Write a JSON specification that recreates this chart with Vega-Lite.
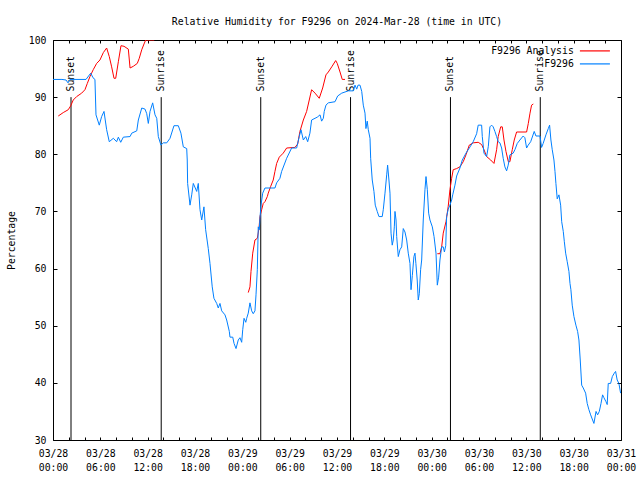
{
  "$schema": "https://vega.github.io/schema/vega-lite/v6.json",
  "width": 568,
  "height": 400,
  "autosize": "none",
  "padding": {"left": 53, "top": 40, "right": 19, "bottom": 40},
  "background": "white",
  "title": {"text": "Relative Humidity for F9296 on 2024-Mar-28 (time in UTC)", "font": "DejaVu Sans Mono", "fontSize": 9.8, "fontWeight": "normal", "color": "black", "offset": 8, "anchor": "middle"},
  "datasets": {
    "sun": [
      {"time": "2024-03-28T02:17", "event": "Sunset"},
      {"time": "2024-03-28T13:43", "event": "Sunrise"},
      {"time": "2024-03-29T02:20", "event": "Sunset"},
      {"time": "2024-03-29T13:43", "event": "Sunrise"},
      {"time": "2024-03-30T02:23", "event": "Sunset"},
      {"time": "2024-03-30T13:46", "event": "Sunrise"}
    ],
    "rh": [
      {"time": "2024-03-28T00:40", "series": "F9296 Analysis", "seg": "a1", "rh": 86.7},
      {"time": "2024-03-28T01:18", "series": "F9296 Analysis", "seg": "a1", "rh": 87.3},
      {"time": "2024-03-28T01:56", "series": "F9296 Analysis", "seg": "a1", "rh": 87.8},
      {"time": "2024-03-28T02:15", "series": "F9296 Analysis", "seg": "a1", "rh": 88.5},
      {"time": "2024-03-28T02:34", "series": "F9296 Analysis", "seg": "a1", "rh": 89.5},
      {"time": "2024-03-28T03:00", "series": "F9296 Analysis", "seg": "a1", "rh": 90.1},
      {"time": "2024-03-28T03:38", "series": "F9296 Analysis", "seg": "a1", "rh": 90.7},
      {"time": "2024-03-28T04:03", "series": "F9296 Analysis", "seg": "a1", "rh": 91.3},
      {"time": "2024-03-28T04:21", "series": "F9296 Analysis", "seg": "a1", "rh": 92.4},
      {"time": "2024-03-28T04:41", "series": "F9296 Analysis", "seg": "a1", "rh": 93.6},
      {"time": "2024-03-28T05:06", "series": "F9296 Analysis", "seg": "a1", "rh": 94.8},
      {"time": "2024-03-28T05:32", "series": "F9296 Analysis", "seg": "a1", "rh": 95.9},
      {"time": "2024-03-28T05:57", "series": "F9296 Analysis", "seg": "a1", "rh": 96.5},
      {"time": "2024-03-28T06:23", "series": "F9296 Analysis", "seg": "a1", "rh": 97.8},
      {"time": "2024-03-28T06:48", "series": "F9296 Analysis", "seg": "a1", "rh": 98.6},
      {"time": "2024-03-28T07:08", "series": "F9296 Analysis", "seg": "a1", "rh": 97.1},
      {"time": "2024-03-28T07:26", "series": "F9296 Analysis", "seg": "a1", "rh": 95.3},
      {"time": "2024-03-28T07:44", "series": "F9296 Analysis", "seg": "a1", "rh": 93.3},
      {"time": "2024-03-28T07:57", "series": "F9296 Analysis", "seg": "a1", "rh": 93.3},
      {"time": "2024-03-28T08:17", "series": "F9296 Analysis", "seg": "a1", "rh": 96.2},
      {"time": "2024-03-28T08:37", "series": "F9296 Analysis", "seg": "a1", "rh": 99.0},
      {"time": "2024-03-28T09:00", "series": "F9296 Analysis", "seg": "a1", "rh": 98.9},
      {"time": "2024-03-28T09:33", "series": "F9296 Analysis", "seg": "a1", "rh": 98.4},
      {"time": "2024-03-28T09:46", "series": "F9296 Analysis", "seg": "a1", "rh": 95.1},
      {"time": "2024-03-28T10:11", "series": "F9296 Analysis", "seg": "a1", "rh": 95.4},
      {"time": "2024-03-28T10:41", "series": "F9296 Analysis", "seg": "a1", "rh": 95.9},
      {"time": "2024-03-28T10:56", "series": "F9296 Analysis", "seg": "a1", "rh": 96.8},
      {"time": "2024-03-28T11:15", "series": "F9296 Analysis", "seg": "a1", "rh": 98.3},
      {"time": "2024-03-28T11:32", "series": "F9296 Analysis", "seg": "a1", "rh": 99.3},
      {"time": "2024-03-28T11:45", "series": "F9296 Analysis", "seg": "a1", "rh": 100},
      {"time": "2024-03-28T12:50", "series": "F9296 Analysis", "seg": "a1", "rh": 100},
      {"time": "2024-03-29T00:45", "series": "F9296 Analysis", "seg": "a2", "rh": 55.8},
      {"time": "2024-03-29T00:58", "series": "F9296 Analysis", "seg": "a2", "rh": 56.8},
      {"time": "2024-03-29T01:06", "series": "F9296 Analysis", "seg": "a2", "rh": 59.5},
      {"time": "2024-03-29T01:19", "series": "F9296 Analysis", "seg": "a2", "rh": 62.7},
      {"time": "2024-03-29T01:36", "series": "F9296 Analysis", "seg": "a2", "rh": 65.0},
      {"time": "2024-03-29T01:54", "series": "F9296 Analysis", "seg": "a2", "rh": 65.3},
      {"time": "2024-03-29T02:07", "series": "F9296 Analysis", "seg": "a2", "rh": 67.1},
      {"time": "2024-03-29T02:14", "series": "F9296 Analysis", "seg": "a2", "rh": 69.1},
      {"time": "2024-03-29T02:27", "series": "F9296 Analysis", "seg": "a2", "rh": 70.3},
      {"time": "2024-03-29T02:39", "series": "F9296 Analysis", "seg": "a2", "rh": 71.4},
      {"time": "2024-03-29T02:52", "series": "F9296 Analysis", "seg": "a2", "rh": 71.7},
      {"time": "2024-03-29T03:10", "series": "F9296 Analysis", "seg": "a2", "rh": 72.6},
      {"time": "2024-03-29T03:17", "series": "F9296 Analysis", "seg": "a2", "rh": 73.2},
      {"time": "2024-03-29T03:36", "series": "F9296 Analysis", "seg": "a2", "rh": 74.4},
      {"time": "2024-03-29T03:55", "series": "F9296 Analysis", "seg": "a2", "rh": 75.5},
      {"time": "2024-03-29T04:08", "series": "F9296 Analysis", "seg": "a2", "rh": 77.0},
      {"time": "2024-03-29T04:21", "series": "F9296 Analysis", "seg": "a2", "rh": 78.4},
      {"time": "2024-03-29T04:41", "series": "F9296 Analysis", "seg": "a2", "rh": 79.5},
      {"time": "2024-03-29T05:11", "series": "F9296 Analysis", "seg": "a2", "rh": 80.2},
      {"time": "2024-03-29T05:37", "series": "F9296 Analysis", "seg": "a2", "rh": 81.1},
      {"time": "2024-03-29T06:40", "series": "F9296 Analysis", "seg": "a2", "rh": 81.2},
      {"time": "2024-03-29T07:01", "series": "F9296 Analysis", "seg": "a2", "rh": 81.8},
      {"time": "2024-03-29T07:18", "series": "F9296 Analysis", "seg": "a2", "rh": 84.0},
      {"time": "2024-03-29T07:44", "series": "F9296 Analysis", "seg": "a2", "rh": 86.0},
      {"time": "2024-03-29T08:09", "series": "F9296 Analysis", "seg": "a2", "rh": 87.5},
      {"time": "2024-03-29T08:29", "series": "F9296 Analysis", "seg": "a2", "rh": 89.5},
      {"time": "2024-03-29T08:47", "series": "F9296 Analysis", "seg": "a2", "rh": 91.3},
      {"time": "2024-03-29T09:13", "series": "F9296 Analysis", "seg": "a2", "rh": 90.7},
      {"time": "2024-03-29T09:45", "series": "F9296 Analysis", "seg": "a2", "rh": 89.8},
      {"time": "2024-03-29T10:11", "series": "F9296 Analysis", "seg": "a2", "rh": 91.6},
      {"time": "2024-03-29T10:36", "series": "F9296 Analysis", "seg": "a2", "rh": 93.9},
      {"time": "2024-03-29T10:54", "series": "F9296 Analysis", "seg": "a2", "rh": 94.4},
      {"time": "2024-03-29T11:20", "series": "F9296 Analysis", "seg": "a2", "rh": 95.3},
      {"time": "2024-03-29T11:50", "series": "F9296 Analysis", "seg": "a2", "rh": 96.4},
      {"time": "2024-03-29T12:02", "series": "F9296 Analysis", "seg": "a2", "rh": 95.9},
      {"time": "2024-03-29T12:23", "series": "F9296 Analysis", "seg": "a2", "rh": 94.4},
      {"time": "2024-03-29T12:40", "series": "F9296 Analysis", "seg": "a2", "rh": 93.1},
      {"time": "2024-03-29T13:01", "series": "F9296 Analysis", "seg": "a2", "rh": 93.1},
      {"time": "2024-03-30T00:43", "series": "F9296 Analysis", "seg": "a3", "rh": 62.6},
      {"time": "2024-03-30T01:03", "series": "F9296 Analysis", "seg": "a3", "rh": 62.6},
      {"time": "2024-03-30T01:16", "series": "F9296 Analysis", "seg": "a3", "rh": 63.8},
      {"time": "2024-03-30T01:28", "series": "F9296 Analysis", "seg": "a3", "rh": 66.2},
      {"time": "2024-03-30T01:49", "series": "F9296 Analysis", "seg": "a3", "rh": 68.2},
      {"time": "2024-03-30T02:06", "series": "F9296 Analysis", "seg": "a3", "rh": 70.9},
      {"time": "2024-03-30T02:19", "series": "F9296 Analysis", "seg": "a3", "rh": 73.8},
      {"time": "2024-03-30T02:32", "series": "F9296 Analysis", "seg": "a3", "rh": 75.8},
      {"time": "2024-03-30T02:44", "series": "F9296 Analysis", "seg": "a3", "rh": 77.3},
      {"time": "2024-03-30T03:10", "series": "F9296 Analysis", "seg": "a3", "rh": 77.5},
      {"time": "2024-03-30T03:35", "series": "F9296 Analysis", "seg": "a3", "rh": 77.8},
      {"time": "2024-03-30T04:00", "series": "F9296 Analysis", "seg": "a3", "rh": 78.7},
      {"time": "2024-03-30T04:21", "series": "F9296 Analysis", "seg": "a3", "rh": 79.9},
      {"time": "2024-03-30T04:46", "series": "F9296 Analysis", "seg": "a3", "rh": 81.6},
      {"time": "2024-03-30T05:16", "series": "F9296 Analysis", "seg": "a3", "rh": 82.0},
      {"time": "2024-03-30T05:54", "series": "F9296 Analysis", "seg": "a3", "rh": 82.1},
      {"time": "2024-03-30T06:20", "series": "F9296 Analysis", "seg": "a3", "rh": 81.7},
      {"time": "2024-03-30T06:38", "series": "F9296 Analysis", "seg": "a3", "rh": 80.8},
      {"time": "2024-03-30T06:58", "series": "F9296 Analysis", "seg": "a3", "rh": 79.6},
      {"time": "2024-03-30T07:29", "series": "F9296 Analysis", "seg": "a3", "rh": 79.0},
      {"time": "2024-03-30T07:54", "series": "F9296 Analysis", "seg": "a3", "rh": 78.4},
      {"time": "2024-03-30T08:14", "series": "F9296 Analysis", "seg": "a3", "rh": 80.8},
      {"time": "2024-03-30T08:26", "series": "F9296 Analysis", "seg": "a3", "rh": 83.1},
      {"time": "2024-03-30T08:45", "series": "F9296 Analysis", "seg": "a3", "rh": 84.8},
      {"time": "2024-03-30T08:57", "series": "F9296 Analysis", "seg": "a3", "rh": 84.8},
      {"time": "2024-03-30T09:10", "series": "F9296 Analysis", "seg": "a3", "rh": 82.5},
      {"time": "2024-03-30T09:25", "series": "F9296 Analysis", "seg": "a3", "rh": 80.5},
      {"time": "2024-03-30T09:43", "series": "F9296 Analysis", "seg": "a3", "rh": 78.7},
      {"time": "2024-03-30T09:55", "series": "F9296 Analysis", "seg": "a3", "rh": 78.7},
      {"time": "2024-03-30T10:13", "series": "F9296 Analysis", "seg": "a3", "rh": 80.8},
      {"time": "2024-03-30T10:28", "series": "F9296 Analysis", "seg": "a3", "rh": 82.5},
      {"time": "2024-03-30T10:46", "series": "F9296 Analysis", "seg": "a3", "rh": 83.9},
      {"time": "2024-03-30T12:02", "series": "F9296 Analysis", "seg": "a3", "rh": 83.9},
      {"time": "2024-03-30T12:15", "series": "F9296 Analysis", "seg": "a3", "rh": 85.4},
      {"time": "2024-03-30T12:28", "series": "F9296 Analysis", "seg": "a3", "rh": 87.2},
      {"time": "2024-03-30T12:40", "series": "F9296 Analysis", "seg": "a3", "rh": 88.6},
      {"time": "2024-03-30T12:53", "series": "F9296 Analysis", "seg": "a3", "rh": 88.8},
      {"time": "2024-03-28T00:00", "series": "F9296", "seg": "b", "rh": 93.1},
      {"time": "2024-03-28T01:08", "series": "F9296", "seg": "b", "rh": 93.1},
      {"time": "2024-03-28T01:39", "series": "F9296", "seg": "b", "rh": 93.0},
      {"time": "2024-03-28T01:54", "series": "F9296", "seg": "b", "rh": 92.5},
      {"time": "2024-03-28T02:09", "series": "F9296", "seg": "b", "rh": 93.1},
      {"time": "2024-03-28T04:11", "series": "F9296", "seg": "b", "rh": 93.1},
      {"time": "2024-03-28T04:47", "series": "F9296", "seg": "b", "rh": 94.2},
      {"time": "2024-03-28T05:04", "series": "F9296", "seg": "b", "rh": 93.4},
      {"time": "2024-03-28T05:19", "series": "F9296", "seg": "b", "rh": 93.1},
      {"time": "2024-03-28T05:27", "series": "F9296", "seg": "b", "rh": 86.9},
      {"time": "2024-03-28T05:52", "series": "F9296", "seg": "b", "rh": 85.1},
      {"time": "2024-03-28T06:10", "series": "F9296", "seg": "b", "rh": 86.6},
      {"time": "2024-03-28T06:28", "series": "F9296", "seg": "b", "rh": 87.5},
      {"time": "2024-03-28T06:48", "series": "F9296", "seg": "b", "rh": 84.3},
      {"time": "2024-03-28T07:08", "series": "F9296", "seg": "b", "rh": 82.2},
      {"time": "2024-03-28T07:39", "series": "F9296", "seg": "b", "rh": 82.8},
      {"time": "2024-03-28T08:04", "series": "F9296", "seg": "b", "rh": 82.2},
      {"time": "2024-03-28T08:17", "series": "F9296", "seg": "b", "rh": 83.0},
      {"time": "2024-03-28T08:35", "series": "F9296", "seg": "b", "rh": 82.1},
      {"time": "2024-03-28T08:55", "series": "F9296", "seg": "b", "rh": 83.0},
      {"time": "2024-03-28T09:46", "series": "F9296", "seg": "b", "rh": 83.1},
      {"time": "2024-03-28T09:59", "series": "F9296", "seg": "b", "rh": 83.7},
      {"time": "2024-03-28T10:37", "series": "F9296", "seg": "b", "rh": 84.1},
      {"time": "2024-03-28T10:49", "series": "F9296", "seg": "b", "rh": 86.0},
      {"time": "2024-03-28T11:15", "series": "F9296", "seg": "b", "rh": 88.1},
      {"time": "2024-03-28T11:40", "series": "F9296", "seg": "b", "rh": 87.9},
      {"time": "2024-03-28T11:53", "series": "F9296", "seg": "b", "rh": 87.1},
      {"time": "2024-03-28T12:05", "series": "F9296", "seg": "b", "rh": 85.4},
      {"time": "2024-03-28T12:18", "series": "F9296", "seg": "b", "rh": 87.5},
      {"time": "2024-03-28T12:38", "series": "F9296", "seg": "b", "rh": 89.0},
      {"time": "2024-03-28T12:56", "series": "F9296", "seg": "b", "rh": 86.9},
      {"time": "2024-03-28T13:09", "series": "F9296", "seg": "b", "rh": 86.3},
      {"time": "2024-03-28T13:21", "series": "F9296", "seg": "b", "rh": 83.1},
      {"time": "2024-03-28T13:41", "series": "F9296", "seg": "b", "rh": 81.6},
      {"time": "2024-03-28T13:59", "series": "F9296", "seg": "b", "rh": 82.0},
      {"time": "2024-03-28T14:25", "series": "F9296", "seg": "b", "rh": 82.0},
      {"time": "2024-03-28T14:50", "series": "F9296", "seg": "b", "rh": 82.8},
      {"time": "2024-03-28T15:20", "series": "F9296", "seg": "b", "rh": 85.0},
      {"time": "2024-03-28T15:53", "series": "F9296", "seg": "b", "rh": 85.0},
      {"time": "2024-03-28T16:13", "series": "F9296", "seg": "b", "rh": 83.7},
      {"time": "2024-03-28T16:31", "series": "F9296", "seg": "b", "rh": 81.3},
      {"time": "2024-03-28T16:57", "series": "F9296", "seg": "b", "rh": 81.0},
      {"time": "2024-03-28T17:01", "series": "F9296", "seg": "b", "rh": 79.0},
      {"time": "2024-03-28T17:04", "series": "F9296", "seg": "b", "rh": 74.9},
      {"time": "2024-03-28T17:22", "series": "F9296", "seg": "b", "rh": 71.1},
      {"time": "2024-03-28T17:35", "series": "F9296", "seg": "b", "rh": 72.9},
      {"time": "2024-03-28T17:47", "series": "F9296", "seg": "b", "rh": 74.9},
      {"time": "2024-03-28T18:13", "series": "F9296", "seg": "b", "rh": 73.5},
      {"time": "2024-03-28T18:25", "series": "F9296", "seg": "b", "rh": 74.9},
      {"time": "2024-03-28T18:38", "series": "F9296", "seg": "b", "rh": 70.3},
      {"time": "2024-03-28T18:51", "series": "F9296", "seg": "b", "rh": 68.5},
      {"time": "2024-03-28T19:08", "series": "F9296", "seg": "b", "rh": 70.8},
      {"time": "2024-03-28T19:21", "series": "F9296", "seg": "b", "rh": 66.8},
      {"time": "2024-03-28T19:41", "series": "F9296", "seg": "b", "rh": 63.5},
      {"time": "2024-03-28T19:54", "series": "F9296", "seg": "b", "rh": 60.9},
      {"time": "2024-03-28T20:11", "series": "F9296", "seg": "b", "rh": 56.8},
      {"time": "2024-03-28T20:24", "series": "F9296", "seg": "b", "rh": 54.8},
      {"time": "2024-03-28T20:45", "series": "F9296", "seg": "b", "rh": 53.9},
      {"time": "2024-03-28T20:57", "series": "F9296", "seg": "b", "rh": 53.1},
      {"time": "2024-03-28T21:10", "series": "F9296", "seg": "b", "rh": 53.9},
      {"time": "2024-03-28T21:23", "series": "F9296", "seg": "b", "rh": 52.6},
      {"time": "2024-03-28T21:48", "series": "F9296", "seg": "b", "rh": 51.9},
      {"time": "2024-03-28T22:01", "series": "F9296", "seg": "b", "rh": 51.0},
      {"time": "2024-03-28T22:21", "series": "F9296", "seg": "b", "rh": 49.0},
      {"time": "2024-03-28T22:26", "series": "F9296", "seg": "b", "rh": 48.0},
      {"time": "2024-03-28T22:47", "series": "F9296", "seg": "b", "rh": 48.0},
      {"time": "2024-03-28T22:57", "series": "F9296", "seg": "b", "rh": 46.9},
      {"time": "2024-03-28T23:12", "series": "F9296", "seg": "b", "rh": 46.0},
      {"time": "2024-03-28T23:29", "series": "F9296", "seg": "b", "rh": 47.5},
      {"time": "2024-03-28T23:42", "series": "F9296", "seg": "b", "rh": 47.9},
      {"time": "2024-03-28T23:55", "series": "F9296", "seg": "b", "rh": 47.1},
      {"time": "2024-03-29T00:03", "series": "F9296", "seg": "b", "rh": 49.3},
      {"time": "2024-03-29T00:13", "series": "F9296", "seg": "b", "rh": 51.3},
      {"time": "2024-03-29T00:26", "series": "F9296", "seg": "b", "rh": 50.6},
      {"time": "2024-03-29T00:33", "series": "F9296", "seg": "b", "rh": 51.3},
      {"time": "2024-03-29T00:45", "series": "F9296", "seg": "b", "rh": 52.2},
      {"time": "2024-03-29T00:58", "series": "F9296", "seg": "b", "rh": 54.0},
      {"time": "2024-03-29T01:11", "series": "F9296", "seg": "b", "rh": 52.6},
      {"time": "2024-03-29T01:23", "series": "F9296", "seg": "b", "rh": 52.1},
      {"time": "2024-03-29T01:36", "series": "F9296", "seg": "b", "rh": 52.6},
      {"time": "2024-03-29T01:44", "series": "F9296", "seg": "b", "rh": 55.4},
      {"time": "2024-03-29T01:54", "series": "F9296", "seg": "b", "rh": 59.8},
      {"time": "2024-03-29T02:01", "series": "F9296", "seg": "b", "rh": 67.3},
      {"time": "2024-03-29T02:09", "series": "F9296", "seg": "b", "rh": 66.8},
      {"time": "2024-03-29T02:14", "series": "F9296", "seg": "b", "rh": 68.8},
      {"time": "2024-03-29T02:22", "series": "F9296", "seg": "b", "rh": 71.1},
      {"time": "2024-03-29T02:35", "series": "F9296", "seg": "b", "rh": 73.2},
      {"time": "2024-03-29T02:52", "series": "F9296", "seg": "b", "rh": 74.1},
      {"time": "2024-03-29T04:08", "series": "F9296", "seg": "b", "rh": 74.1},
      {"time": "2024-03-29T04:21", "series": "F9296", "seg": "b", "rh": 75.0},
      {"time": "2024-03-29T04:46", "series": "F9296", "seg": "b", "rh": 75.8},
      {"time": "2024-03-29T04:59", "series": "F9296", "seg": "b", "rh": 77.0},
      {"time": "2024-03-29T05:37", "series": "F9296", "seg": "b", "rh": 79.3},
      {"time": "2024-03-29T06:15", "series": "F9296", "seg": "b", "rh": 81.1},
      {"time": "2024-03-29T06:53", "series": "F9296", "seg": "b", "rh": 81.1},
      {"time": "2024-03-29T07:13", "series": "F9296", "seg": "b", "rh": 83.1},
      {"time": "2024-03-29T07:26", "series": "F9296", "seg": "b", "rh": 84.3},
      {"time": "2024-03-29T07:44", "series": "F9296", "seg": "b", "rh": 82.5},
      {"time": "2024-03-29T08:02", "series": "F9296", "seg": "b", "rh": 83.1},
      {"time": "2024-03-29T08:17", "series": "F9296", "seg": "b", "rh": 82.2},
      {"time": "2024-03-29T08:34", "series": "F9296", "seg": "b", "rh": 83.7},
      {"time": "2024-03-29T08:47", "series": "F9296", "seg": "b", "rh": 86.0},
      {"time": "2024-03-29T09:13", "series": "F9296", "seg": "b", "rh": 86.3},
      {"time": "2024-03-29T09:30", "series": "F9296", "seg": "b", "rh": 86.5},
      {"time": "2024-03-29T09:51", "series": "F9296", "seg": "b", "rh": 86.9},
      {"time": "2024-03-29T10:03", "series": "F9296", "seg": "b", "rh": 85.8},
      {"time": "2024-03-29T10:16", "series": "F9296", "seg": "b", "rh": 86.3},
      {"time": "2024-03-29T10:23", "series": "F9296", "seg": "b", "rh": 87.5},
      {"time": "2024-03-29T10:36", "series": "F9296", "seg": "b", "rh": 88.6},
      {"time": "2024-03-29T10:54", "series": "F9296", "seg": "b", "rh": 89.0},
      {"time": "2024-03-29T11:45", "series": "F9296", "seg": "b", "rh": 89.2},
      {"time": "2024-03-29T12:05", "series": "F9296", "seg": "b", "rh": 90.2},
      {"time": "2024-03-29T12:36", "series": "F9296", "seg": "b", "rh": 90.7},
      {"time": "2024-03-29T13:26", "series": "F9296", "seg": "b", "rh": 91.1},
      {"time": "2024-03-29T14:04", "series": "F9296", "seg": "b", "rh": 91.1},
      {"time": "2024-03-29T14:17", "series": "F9296", "seg": "b", "rh": 92.1},
      {"time": "2024-03-29T14:30", "series": "F9296", "seg": "b", "rh": 91.4},
      {"time": "2024-03-29T14:40", "series": "F9296", "seg": "b", "rh": 92.1},
      {"time": "2024-03-29T14:55", "series": "F9296", "seg": "b", "rh": 92.1},
      {"time": "2024-03-29T15:08", "series": "F9296", "seg": "b", "rh": 91.0},
      {"time": "2024-03-29T15:20", "series": "F9296", "seg": "b", "rh": 88.6},
      {"time": "2024-03-29T15:33", "series": "F9296", "seg": "b", "rh": 87.2},
      {"time": "2024-03-29T15:40", "series": "F9296", "seg": "b", "rh": 84.5},
      {"time": "2024-03-29T15:50", "series": "F9296", "seg": "b", "rh": 85.8},
      {"time": "2024-03-29T15:58", "series": "F9296", "seg": "b", "rh": 84.3},
      {"time": "2024-03-29T16:11", "series": "F9296", "seg": "b", "rh": 82.8},
      {"time": "2024-03-29T16:16", "series": "F9296", "seg": "b", "rh": 79.3},
      {"time": "2024-03-29T16:28", "series": "F9296", "seg": "b", "rh": 75.5},
      {"time": "2024-03-29T16:41", "series": "F9296", "seg": "b", "rh": 73.5},
      {"time": "2024-03-29T16:51", "series": "F9296", "seg": "b", "rh": 71.1},
      {"time": "2024-03-29T17:06", "series": "F9296", "seg": "b", "rh": 70.0},
      {"time": "2024-03-29T17:19", "series": "F9296", "seg": "b", "rh": 69.1},
      {"time": "2024-03-29T17:44", "series": "F9296", "seg": "b", "rh": 69.1},
      {"time": "2024-03-29T17:52", "series": "F9296", "seg": "b", "rh": 70.3},
      {"time": "2024-03-29T18:05", "series": "F9296", "seg": "b", "rh": 73.2},
      {"time": "2024-03-29T18:18", "series": "F9296", "seg": "b", "rh": 76.4},
      {"time": "2024-03-29T18:25", "series": "F9296", "seg": "b", "rh": 78.1},
      {"time": "2024-03-29T18:35", "series": "F9296", "seg": "b", "rh": 75.5},
      {"time": "2024-03-29T18:43", "series": "F9296", "seg": "b", "rh": 73.2},
      {"time": "2024-03-29T18:51", "series": "F9296", "seg": "b", "rh": 66.2},
      {"time": "2024-03-29T19:00", "series": "F9296", "seg": "b", "rh": 64.1},
      {"time": "2024-03-29T19:08", "series": "F9296", "seg": "b", "rh": 65.0},
      {"time": "2024-03-29T19:16", "series": "F9296", "seg": "b", "rh": 67.3},
      {"time": "2024-03-29T19:21", "series": "F9296", "seg": "b", "rh": 70.0},
      {"time": "2024-03-29T19:29", "series": "F9296", "seg": "b", "rh": 68.5},
      {"time": "2024-03-29T19:34", "series": "F9296", "seg": "b", "rh": 65.6},
      {"time": "2024-03-29T19:46", "series": "F9296", "seg": "b", "rh": 62.1},
      {"time": "2024-03-29T19:59", "series": "F9296", "seg": "b", "rh": 63.3},
      {"time": "2024-03-29T20:12", "series": "F9296", "seg": "b", "rh": 63.8},
      {"time": "2024-03-29T20:24", "series": "F9296", "seg": "b", "rh": 67.0},
      {"time": "2024-03-29T20:37", "series": "F9296", "seg": "b", "rh": 66.4},
      {"time": "2024-03-29T20:50", "series": "F9296", "seg": "b", "rh": 65.0},
      {"time": "2024-03-29T21:02", "series": "F9296", "seg": "b", "rh": 62.7},
      {"time": "2024-03-29T21:15", "series": "F9296", "seg": "b", "rh": 60.9},
      {"time": "2024-03-29T21:23", "series": "F9296", "seg": "b", "rh": 56.3},
      {"time": "2024-03-29T21:33", "series": "F9296", "seg": "b", "rh": 58.8},
      {"time": "2024-03-29T21:45", "series": "F9296", "seg": "b", "rh": 62.1},
      {"time": "2024-03-29T21:53", "series": "F9296", "seg": "b", "rh": 62.7},
      {"time": "2024-03-29T22:00", "series": "F9296", "seg": "b", "rh": 60.9},
      {"time": "2024-03-29T22:10", "series": "F9296", "seg": "b", "rh": 58.0},
      {"time": "2024-03-29T22:18", "series": "F9296", "seg": "b", "rh": 54.5},
      {"time": "2024-03-29T22:26", "series": "F9296", "seg": "b", "rh": 55.6},
      {"time": "2024-03-29T22:36", "series": "F9296", "seg": "b", "rh": 59.8},
      {"time": "2024-03-29T22:44", "series": "F9296", "seg": "b", "rh": 61.5},
      {"time": "2024-03-29T22:56", "series": "F9296", "seg": "b", "rh": 68.5},
      {"time": "2024-03-29T23:09", "series": "F9296", "seg": "b", "rh": 73.8},
      {"time": "2024-03-29T23:17", "series": "F9296", "seg": "b", "rh": 76.1},
      {"time": "2024-03-29T23:27", "series": "F9296", "seg": "b", "rh": 73.8},
      {"time": "2024-03-29T23:37", "series": "F9296", "seg": "b", "rh": 69.7},
      {"time": "2024-03-29T23:47", "series": "F9296", "seg": "b", "rh": 68.5},
      {"time": "2024-03-30T00:05", "series": "F9296", "seg": "b", "rh": 67.3},
      {"time": "2024-03-30T00:18", "series": "F9296", "seg": "b", "rh": 65.6},
      {"time": "2024-03-30T00:33", "series": "F9296", "seg": "b", "rh": 62.7},
      {"time": "2024-03-30T00:43", "series": "F9296", "seg": "b", "rh": 57.1},
      {"time": "2024-03-30T00:53", "series": "F9296", "seg": "b", "rh": 58.5},
      {"time": "2024-03-30T01:03", "series": "F9296", "seg": "b", "rh": 61.5},
      {"time": "2024-03-30T01:16", "series": "F9296", "seg": "b", "rh": 63.8},
      {"time": "2024-03-30T01:28", "series": "F9296", "seg": "b", "rh": 63.8},
      {"time": "2024-03-30T01:37", "series": "F9296", "seg": "b", "rh": 62.9},
      {"time": "2024-03-30T01:47", "series": "F9296", "seg": "b", "rh": 64.0},
      {"time": "2024-03-30T01:54", "series": "F9296", "seg": "b", "rh": 69.1},
      {"time": "2024-03-30T02:06", "series": "F9296", "seg": "b", "rh": 70.4},
      {"time": "2024-03-30T02:19", "series": "F9296", "seg": "b", "rh": 71.1},
      {"time": "2024-03-30T02:32", "series": "F9296", "seg": "b", "rh": 72.0},
      {"time": "2024-03-30T02:40", "series": "F9296", "seg": "b", "rh": 72.9},
      {"time": "2024-03-30T02:57", "series": "F9296", "seg": "b", "rh": 74.6},
      {"time": "2024-03-30T03:10", "series": "F9296", "seg": "b", "rh": 76.2},
      {"time": "2024-03-30T03:35", "series": "F9296", "seg": "b", "rh": 77.6},
      {"time": "2024-03-30T03:53", "series": "F9296", "seg": "b", "rh": 79.0},
      {"time": "2024-03-30T04:21", "series": "F9296", "seg": "b", "rh": 80.2},
      {"time": "2024-03-30T04:52", "series": "F9296", "seg": "b", "rh": 81.3},
      {"time": "2024-03-30T05:16", "series": "F9296", "seg": "b", "rh": 82.2},
      {"time": "2024-03-30T05:42", "series": "F9296", "seg": "b", "rh": 83.6},
      {"time": "2024-03-30T05:54", "series": "F9296", "seg": "b", "rh": 85.1},
      {"time": "2024-03-30T06:20", "series": "F9296", "seg": "b", "rh": 85.1},
      {"time": "2024-03-30T06:25", "series": "F9296", "seg": "b", "rh": 83.1},
      {"time": "2024-03-30T06:38", "series": "F9296", "seg": "b", "rh": 80.2},
      {"time": "2024-03-30T06:58", "series": "F9296", "seg": "b", "rh": 79.6},
      {"time": "2024-03-30T07:11", "series": "F9296", "seg": "b", "rh": 81.4},
      {"time": "2024-03-30T07:23", "series": "F9296", "seg": "b", "rh": 84.8},
      {"time": "2024-03-30T07:36", "series": "F9296", "seg": "b", "rh": 85.1},
      {"time": "2024-03-30T07:48", "series": "F9296", "seg": "b", "rh": 84.8},
      {"time": "2024-03-30T08:01", "series": "F9296", "seg": "b", "rh": 84.0},
      {"time": "2024-03-30T08:14", "series": "F9296", "seg": "b", "rh": 83.1},
      {"time": "2024-03-30T08:26", "series": "F9296", "seg": "b", "rh": 82.2},
      {"time": "2024-03-30T08:39", "series": "F9296", "seg": "b", "rh": 82.0},
      {"time": "2024-03-30T08:52", "series": "F9296", "seg": "b", "rh": 81.1},
      {"time": "2024-03-30T09:04", "series": "F9296", "seg": "b", "rh": 79.3},
      {"time": "2024-03-30T09:17", "series": "F9296", "seg": "b", "rh": 77.8},
      {"time": "2024-03-30T09:30", "series": "F9296", "seg": "b", "rh": 77.1},
      {"time": "2024-03-30T09:42", "series": "F9296", "seg": "b", "rh": 78.1},
      {"time": "2024-03-30T09:55", "series": "F9296", "seg": "b", "rh": 79.9},
      {"time": "2024-03-30T10:20", "series": "F9296", "seg": "b", "rh": 80.2},
      {"time": "2024-03-30T10:33", "series": "F9296", "seg": "b", "rh": 80.8},
      {"time": "2024-03-30T10:51", "series": "F9296", "seg": "b", "rh": 81.9},
      {"time": "2024-03-30T11:11", "series": "F9296", "seg": "b", "rh": 82.5},
      {"time": "2024-03-30T11:36", "series": "F9296", "seg": "b", "rh": 83.2},
      {"time": "2024-03-30T11:49", "series": "F9296", "seg": "b", "rh": 82.9},
      {"time": "2024-03-30T12:02", "series": "F9296", "seg": "b", "rh": 81.1},
      {"time": "2024-03-30T12:14", "series": "F9296", "seg": "b", "rh": 81.6},
      {"time": "2024-03-30T12:33", "series": "F9296", "seg": "b", "rh": 82.2},
      {"time": "2024-03-30T12:48", "series": "F9296", "seg": "b", "rh": 83.2},
      {"time": "2024-03-30T13:00", "series": "F9296", "seg": "b", "rh": 84.0},
      {"time": "2024-03-30T13:13", "series": "F9296", "seg": "b", "rh": 83.2},
      {"time": "2024-03-30T13:44", "series": "F9296", "seg": "b", "rh": 83.2},
      {"time": "2024-03-30T13:56", "series": "F9296", "seg": "b", "rh": 81.2},
      {"time": "2024-03-30T14:08", "series": "F9296", "seg": "b", "rh": 81.9},
      {"time": "2024-03-30T14:29", "series": "F9296", "seg": "b", "rh": 83.4},
      {"time": "2024-03-30T14:47", "series": "F9296", "seg": "b", "rh": 84.5},
      {"time": "2024-03-30T14:57", "series": "F9296", "seg": "b", "rh": 85.1},
      {"time": "2024-03-30T15:07", "series": "F9296", "seg": "b", "rh": 82.5},
      {"time": "2024-03-30T15:17", "series": "F9296", "seg": "b", "rh": 80.8},
      {"time": "2024-03-30T15:30", "series": "F9296", "seg": "b", "rh": 79.0},
      {"time": "2024-03-30T15:38", "series": "F9296", "seg": "b", "rh": 77.0},
      {"time": "2024-03-30T15:45", "series": "F9296", "seg": "b", "rh": 74.9},
      {"time": "2024-03-30T15:55", "series": "F9296", "seg": "b", "rh": 72.2},
      {"time": "2024-03-30T16:08", "series": "F9296", "seg": "b", "rh": 72.9},
      {"time": "2024-03-30T16:21", "series": "F9296", "seg": "b", "rh": 71.1},
      {"time": "2024-03-30T16:29", "series": "F9296", "seg": "b", "rh": 68.2},
      {"time": "2024-03-30T16:41", "series": "F9296", "seg": "b", "rh": 66.5},
      {"time": "2024-03-30T16:49", "series": "F9296", "seg": "b", "rh": 64.7},
      {"time": "2024-03-30T16:59", "series": "F9296", "seg": "b", "rh": 62.7},
      {"time": "2024-03-30T17:11", "series": "F9296", "seg": "b", "rh": 61.2},
      {"time": "2024-03-30T17:24", "series": "F9296", "seg": "b", "rh": 59.5},
      {"time": "2024-03-30T17:32", "series": "F9296", "seg": "b", "rh": 57.4},
      {"time": "2024-03-30T17:39", "series": "F9296", "seg": "b", "rh": 56.3},
      {"time": "2024-03-30T17:49", "series": "F9296", "seg": "b", "rh": 53.6},
      {"time": "2024-03-30T18:02", "series": "F9296", "seg": "b", "rh": 51.6},
      {"time": "2024-03-30T18:17", "series": "F9296", "seg": "b", "rh": 50.1},
      {"time": "2024-03-30T18:30", "series": "F9296", "seg": "b", "rh": 49.0},
      {"time": "2024-03-30T18:40", "series": "F9296", "seg": "b", "rh": 47.5},
      {"time": "2024-03-30T18:50", "series": "F9296", "seg": "b", "rh": 44.0},
      {"time": "2024-03-30T19:01", "series": "F9296", "seg": "b", "rh": 39.6},
      {"time": "2024-03-30T19:13", "series": "F9296", "seg": "b", "rh": 39.1},
      {"time": "2024-03-30T19:31", "series": "F9296", "seg": "b", "rh": 38.2},
      {"time": "2024-03-30T19:43", "series": "F9296", "seg": "b", "rh": 36.4},
      {"time": "2024-03-30T19:56", "series": "F9296", "seg": "b", "rh": 35.3},
      {"time": "2024-03-30T20:09", "series": "F9296", "seg": "b", "rh": 34.4},
      {"time": "2024-03-30T20:24", "series": "F9296", "seg": "b", "rh": 33.5},
      {"time": "2024-03-30T20:34", "series": "F9296", "seg": "b", "rh": 32.9},
      {"time": "2024-03-30T20:50", "series": "F9296", "seg": "b", "rh": 35.0},
      {"time": "2024-03-30T21:02", "series": "F9296", "seg": "b", "rh": 34.4},
      {"time": "2024-03-30T21:15", "series": "F9296", "seg": "b", "rh": 35.0},
      {"time": "2024-03-30T21:28", "series": "F9296", "seg": "b", "rh": 36.4},
      {"time": "2024-03-30T21:40", "series": "F9296", "seg": "b", "rh": 37.9},
      {"time": "2024-03-30T21:50", "series": "F9296", "seg": "b", "rh": 37.4},
      {"time": "2024-03-30T22:06", "series": "F9296", "seg": "b", "rh": 36.7},
      {"time": "2024-03-30T22:15", "series": "F9296", "seg": "b", "rh": 36.2},
      {"time": "2024-03-30T22:23", "series": "F9296", "seg": "b", "rh": 39.9},
      {"time": "2024-03-30T22:41", "series": "F9296", "seg": "b", "rh": 39.9},
      {"time": "2024-03-30T22:54", "series": "F9296", "seg": "b", "rh": 41.1},
      {"time": "2024-03-30T23:09", "series": "F9296", "seg": "b", "rh": 41.7},
      {"time": "2024-03-30T23:19", "series": "F9296", "seg": "b", "rh": 42.0},
      {"time": "2024-03-30T23:31", "series": "F9296", "seg": "b", "rh": 40.5},
      {"time": "2024-03-30T23:44", "series": "F9296", "seg": "b", "rh": 39.9},
      {"time": "2024-03-30T23:57", "series": "F9296", "seg": "b", "rh": 38.2}
    ]
  },
  "layer": [
    {
      "data": {"name": "sun"},
      "mark": {"type": "rule", "color": "black", "strokeWidth": 1},
      "encoding": {
        "x": {
          "field": "time", "type": "temporal",
          "scale": {"domain": [{"year": 2024, "month": 3, "date": 28}, {"year": 2024, "month": 3, "date": 31}], "nice": false},
          "axis": {"orient": "bottom",
            "values": [{"year": 2024, "month": 3, "date": 28, "hours": 0}, {"year": 2024, "month": 3, "date": 28, "hours": 6}, {"year": 2024, "month": 3, "date": 28, "hours": 12}, {"year": 2024, "month": 3, "date": 28, "hours": 18},
                       {"year": 2024, "month": 3, "date": 29, "hours": 0}, {"year": 2024, "month": 3, "date": 29, "hours": 6}, {"year": 2024, "month": 3, "date": 29, "hours": 12}, {"year": 2024, "month": 3, "date": 29, "hours": 18},
                       {"year": 2024, "month": 3, "date": 30, "hours": 0}, {"year": 2024, "month": 3, "date": 30, "hours": 6}, {"year": 2024, "month": 3, "date": 30, "hours": 12}, {"year": 2024, "month": 3, "date": 30, "hours": 18},
                       {"year": 2024, "month": 3, "date": 31, "hours": 0}],
            "ticks": false, "domain": false, "grid": false, "title": null,
            "labelExpr": "[timeFormat(datum.value, '%m/%d'), timeFormat(datum.value, '%H:%M')]",
            "labelFont": "DejaVu Sans Mono", "labelFontSize": 9.8, "labelColor": "black", "labelPadding": 8, "labelLineHeight": 14, "labelFlush": false, "labelOverlap": false}
        },
        "y": {
          "datum": 30, "type": "quantitative",
          "scale": {"domain": [30, 100], "nice": false, "zero": false},
          "axis": {"orient": "left", "values": [30, 40, 50, 60, 70, 80, 90, 100], "tickSize": -4, "tickColor": "black", "domain": false, "grid": false,
            "labelFont": "DejaVu Sans Mono", "labelFontSize": 9.8, "labelColor": "black", "labelPadding": 11,
            "title": "Percentage", "titleFont": "DejaVu Sans Mono", "titleFontSize": 9.8, "titleFontWeight": "normal", "titleColor": "black", "titleX": -42, "titleY": 200, "titleAngle": 270, "titleAlign": "center", "titleBaseline": "middle"}
        },
        "y2": {"datum": 90}
      }
    },
    {
      "data": {"name": "sun"},
      "mark": {"type": "text", "angle": 270, "align": "left", "baseline": "middle", "font": "DejaVu Sans Mono", "fontSize": 9.8, "color": "black"},
      "encoding": {
        "x": {
          "field": "time", "type": "temporal",
          "axis": {"orient": "top",
            "values": [{"year": 2024, "month": 3, "date": 28, "hours": 0}, {"year": 2024, "month": 3, "date": 28, "hours": 2}, {"year": 2024, "month": 3, "date": 28, "hours": 4}, {"year": 2024, "month": 3, "date": 28, "hours": 6}, {"year": 2024, "month": 3, "date": 28, "hours": 8}, {"year": 2024, "month": 3, "date": 28, "hours": 10}, {"year": 2024, "month": 3, "date": 28, "hours": 12}, {"year": 2024, "month": 3, "date": 28, "hours": 14}, {"year": 2024, "month": 3, "date": 28, "hours": 16}, {"year": 2024, "month": 3, "date": 28, "hours": 18}, {"year": 2024, "month": 3, "date": 28, "hours": 20}, {"year": 2024, "month": 3, "date": 28, "hours": 22},
                       {"year": 2024, "month": 3, "date": 29, "hours": 0}, {"year": 2024, "month": 3, "date": 29, "hours": 2}, {"year": 2024, "month": 3, "date": 29, "hours": 4}, {"year": 2024, "month": 3, "date": 29, "hours": 6}, {"year": 2024, "month": 3, "date": 29, "hours": 8}, {"year": 2024, "month": 3, "date": 29, "hours": 10}, {"year": 2024, "month": 3, "date": 29, "hours": 12}, {"year": 2024, "month": 3, "date": 29, "hours": 14}, {"year": 2024, "month": 3, "date": 29, "hours": 16}, {"year": 2024, "month": 3, "date": 29, "hours": 18}, {"year": 2024, "month": 3, "date": 29, "hours": 20}, {"year": 2024, "month": 3, "date": 29, "hours": 22},
                       {"year": 2024, "month": 3, "date": 30, "hours": 0}, {"year": 2024, "month": 3, "date": 30, "hours": 2}, {"year": 2024, "month": 3, "date": 30, "hours": 4}, {"year": 2024, "month": 3, "date": 30, "hours": 6}, {"year": 2024, "month": 3, "date": 30, "hours": 8}, {"year": 2024, "month": 3, "date": 30, "hours": 10}, {"year": 2024, "month": 3, "date": 30, "hours": 12}, {"year": 2024, "month": 3, "date": 30, "hours": 14}, {"year": 2024, "month": 3, "date": 30, "hours": 16}, {"year": 2024, "month": 3, "date": 30, "hours": 18}, {"year": 2024, "month": 3, "date": 30, "hours": 20}, {"year": 2024, "month": 3, "date": 30, "hours": 22},
                       {"year": 2024, "month": 3, "date": 31, "hours": 0}],
            "labels": false, "tickSize": -3, "tickColor": "black", "domain": false, "grid": false, "title": null}
        },
        "y": {
          "datum": 91, "type": "quantitative",
          "axis": {"orient": "right", "values": [30, 40, 50, 60, 70, 80, 90, 100], "labels": false, "tickSize": -4, "tickColor": "black", "domain": false, "grid": false, "title": null}
        },
        "text": {"field": "event"}
      }
    },
    {
      "data": {"name": "rh"},
      "mark": {"type": "line", "strokeWidth": 1, "clip": true},
      "encoding": {
        "x": {
          "field": "time", "type": "temporal",
          "axis": {"orient": "bottom",
            "values": [{"year": 2024, "month": 3, "date": 28, "hours": 0}, {"year": 2024, "month": 3, "date": 28, "hours": 2}, {"year": 2024, "month": 3, "date": 28, "hours": 4}, {"year": 2024, "month": 3, "date": 28, "hours": 6}, {"year": 2024, "month": 3, "date": 28, "hours": 8}, {"year": 2024, "month": 3, "date": 28, "hours": 10}, {"year": 2024, "month": 3, "date": 28, "hours": 12}, {"year": 2024, "month": 3, "date": 28, "hours": 14}, {"year": 2024, "month": 3, "date": 28, "hours": 16}, {"year": 2024, "month": 3, "date": 28, "hours": 18}, {"year": 2024, "month": 3, "date": 28, "hours": 20}, {"year": 2024, "month": 3, "date": 28, "hours": 22},
                       {"year": 2024, "month": 3, "date": 29, "hours": 0}, {"year": 2024, "month": 3, "date": 29, "hours": 2}, {"year": 2024, "month": 3, "date": 29, "hours": 4}, {"year": 2024, "month": 3, "date": 29, "hours": 6}, {"year": 2024, "month": 3, "date": 29, "hours": 8}, {"year": 2024, "month": 3, "date": 29, "hours": 10}, {"year": 2024, "month": 3, "date": 29, "hours": 12}, {"year": 2024, "month": 3, "date": 29, "hours": 14}, {"year": 2024, "month": 3, "date": 29, "hours": 16}, {"year": 2024, "month": 3, "date": 29, "hours": 18}, {"year": 2024, "month": 3, "date": 29, "hours": 20}, {"year": 2024, "month": 3, "date": 29, "hours": 22},
                       {"year": 2024, "month": 3, "date": 30, "hours": 0}, {"year": 2024, "month": 3, "date": 30, "hours": 2}, {"year": 2024, "month": 3, "date": 30, "hours": 4}, {"year": 2024, "month": 3, "date": 30, "hours": 6}, {"year": 2024, "month": 3, "date": 30, "hours": 8}, {"year": 2024, "month": 3, "date": 30, "hours": 10}, {"year": 2024, "month": 3, "date": 30, "hours": 12}, {"year": 2024, "month": 3, "date": 30, "hours": 14}, {"year": 2024, "month": 3, "date": 30, "hours": 16}, {"year": 2024, "month": 3, "date": 30, "hours": 18}, {"year": 2024, "month": 3, "date": 30, "hours": 20}, {"year": 2024, "month": 3, "date": 30, "hours": 22},
                       {"year": 2024, "month": 3, "date": 31, "hours": 0}],
            "labels": false, "tickSize": -3, "tickColor": "black", "domain": false, "grid": false, "title": null}
        },
        "y": {"field": "rh", "type": "quantitative", "axis": null},
        "color": {
          "field": "series", "type": "nominal",
          "scale": {"domain": ["F9296 Analysis", "F9296"], "range": ["#ff0000", "#0080ff"]},
          "legend": {"orient": "none", "legendX": 537, "legendY": 6, "title": null, "symbolType": "M-5,0H5", "symbolSize": 36, "symbolStrokeWidth": 1.2,
            "labelAlign": "right", "labelOffset": -26, "labelFont": "DejaVu Sans Mono", "labelFontSize": 9.8, "labelColor": "black", "rowPadding": 2, "padding": 0}
        },
        "detail": {"field": "seg"}
      }
    }
  ],
  "resolve": {"axis": {"x": "independent", "y": "independent"}},
  "config": {
    "view": {"stroke": "black", "strokeWidth": 1},
    "axis": {"grid": false, "domain": false}
  }
}
